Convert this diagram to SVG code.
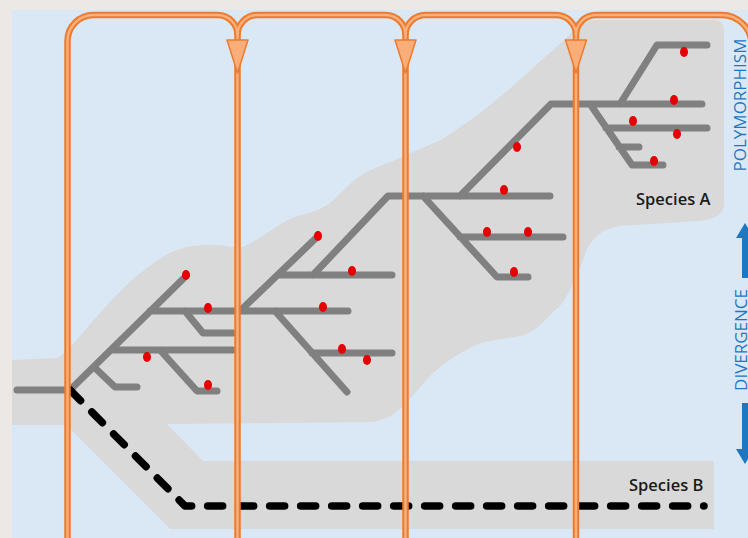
<svg xmlns="http://www.w3.org/2000/svg" width="748" height="538" viewBox="0 0 748 538">
<style>
.branch{fill:none;stroke:#808080;stroke-width:7;stroke-linecap:round;stroke-linejoin:round}
.dash{fill:none;stroke:#000;stroke-width:7.5;stroke-linecap:round;stroke-linejoin:round;stroke-dasharray:15 16}
.mut{fill:#e60000}
.flowO{fill:none;stroke:#ee7a2c;stroke-width:6.5}
.flowI{fill:none;stroke:#f9b07c;stroke-width:2.4}
.head{fill:#fbae7a;stroke:#ee7a2c;stroke-width:1.5;stroke-linejoin:round}
.sp{font-family:"Open Sans","Liberation Sans",sans-serif;font-size:16.5px;font-weight:600;fill:#1a1a1a}
.ax{font-family:"Open Sans","Liberation Sans",sans-serif;font-size:17px;fill:#1f77c0}
.axl{fill:#1f77c0}
</style>
<defs>
<path id="p1" d="M67.5,545 V41 A26,26 0 0 1 93.5,15 H217.5 A20,20 0 0 1 237.5,35 V545"/>
<path id="p2" d="M237.5,35 A20,20 0 0 1 257.5,15 H385.5 A20,20 0 0 1 405.5,35 V545"/>
<path id="p3" d="M405.5,35 A20,20 0 0 1 425.5,15 H556 A20,20 0 0 1 576,35 V545"/>
<path id="p4" d="M576,35 A20,20 0 0 1 596,15 H721.6 A30,30 0 0 1 751.6,45 V545"/>
</defs>
<rect width="748" height="538" fill="#ebe8e5"/>
<rect x="12" y="10" width="736" height="528" fill="#dae8f5"/>
<g id="species-region">
<path fill="#d9d9d9" d="M12,360 L58,358 C72,348 88,325 102,311 C115,296 128,282 143,271 C155,262 165,254 180,249 C195,244 215,244 240,248 C260,240 275,226 290,219 C305,213 318,212 330,203 C345,190 355,176 373,169 C392,162 410,153 441,140 C460,128 470,120 484,110 C500,97 520,80 534,67 C545,57 555,48 562,42 C572,32 580,24 590,20 L714,20 Q724,20 724,30 L724,205 Q722,219 700,221 L620,226 C600,229 590,240 585,255 C580,268 578,272 574,280 C568,295 563,305 554,311 C545,320 535,333 520,336 C500,340 485,340 474,346 C455,355 442,365 431,375 C420,386 410,400 401,408 C392,416 385,420 372,422 L167,424 L203,461 L714,461 L714,529 L170,529 L66,425 L12,425 Z"/>
</g>
<g id="species-a-tree">
<path class="branch" d="M17,390 H70 M70,390 L184,278 M94,367 L115,387 H137 M111,350 H233 M160,350 L197,391 H217 M150,311 H348 M185,311 L203,333 H233 M240,311 L316,238 M278,275 H392 M313,275 L388,196 H550 M275,311 L347,392 M312,353 H392 M423,196 L497,277 H528 M460,237 H563 M460,196 L551,104 H702 M620,104 L657,45 H707 M590,104 L632,165 H663 M606,128 H707 M619,147 H639"/>
</g>
<g id="mutations">
<ellipse class="mut" cx="186" cy="275" rx="4" ry="5"/>
<ellipse class="mut" cx="208" cy="308" rx="4" ry="5"/>
<ellipse class="mut" cx="147" cy="357" rx="4" ry="5"/>
<ellipse class="mut" cx="208" cy="385" rx="4" ry="5"/>
<ellipse class="mut" cx="318" cy="236" rx="4" ry="5"/>
<ellipse class="mut" cx="352" cy="271" rx="4" ry="5"/>
<ellipse class="mut" cx="323" cy="307" rx="4" ry="5"/>
<ellipse class="mut" cx="342" cy="349" rx="4" ry="5"/>
<ellipse class="mut" cx="367" cy="360" rx="4" ry="5"/>
<ellipse class="mut" cx="517" cy="147" rx="4" ry="5"/>
<ellipse class="mut" cx="504" cy="190" rx="4" ry="5"/>
<ellipse class="mut" cx="487" cy="232" rx="4" ry="5"/>
<ellipse class="mut" cx="528" cy="232" rx="4" ry="5"/>
<ellipse class="mut" cx="514" cy="272" rx="4" ry="5"/>
<ellipse class="mut" cx="684" cy="52" rx="4" ry="5"/>
<ellipse class="mut" cx="674" cy="100" rx="4" ry="5"/>
<ellipse class="mut" cx="633" cy="121" rx="4" ry="5"/>
<ellipse class="mut" cx="677" cy="134" rx="4" ry="5"/>
<ellipse class="mut" cx="654" cy="161" rx="4" ry="5"/>
</g>
<g id="species-b">
<path class="dash" d="M70,390 L185,506 H704"/>
</g>
<g id="connectors">
<use href="#p1" class="flowO"/><use href="#p2" class="flowO"/><use href="#p3" class="flowO"/><use href="#p4" class="flowO"/>
<use href="#p1" class="flowI"/><use href="#p2" class="flowI"/><use href="#p3" class="flowI"/><use href="#p4" class="flowI"/>
<polygon class="head" points="227,40 248,40 237.5,73"/>
<polygon class="head" points="395,40 416,40 405.5,73"/>
<polygon class="head" points="565.5,40 586.5,40 576,73"/>
</g>
<g id="labels">
<text class="sp" x="636" y="205">Species A</text>
<text class="sp" x="629" y="491">Species B</text>
</g>
<g id="axis">
<text class="ax" text-anchor="middle" transform="translate(746,105) rotate(-90)">POLYMORPHISM</text>
<text class="ax" text-anchor="middle" transform="translate(747,340) rotate(-90)">DIVERGENCE</text>
<rect class="axl" x="742" y="236" width="6" height="42"/>
<polygon class="axl" points="736,238 754,238 745,223"/>
<rect class="axl" x="742" y="403" width="6" height="48"/>
<polygon class="axl" points="736,449 754,449 745,464"/>
</g>
</svg>
